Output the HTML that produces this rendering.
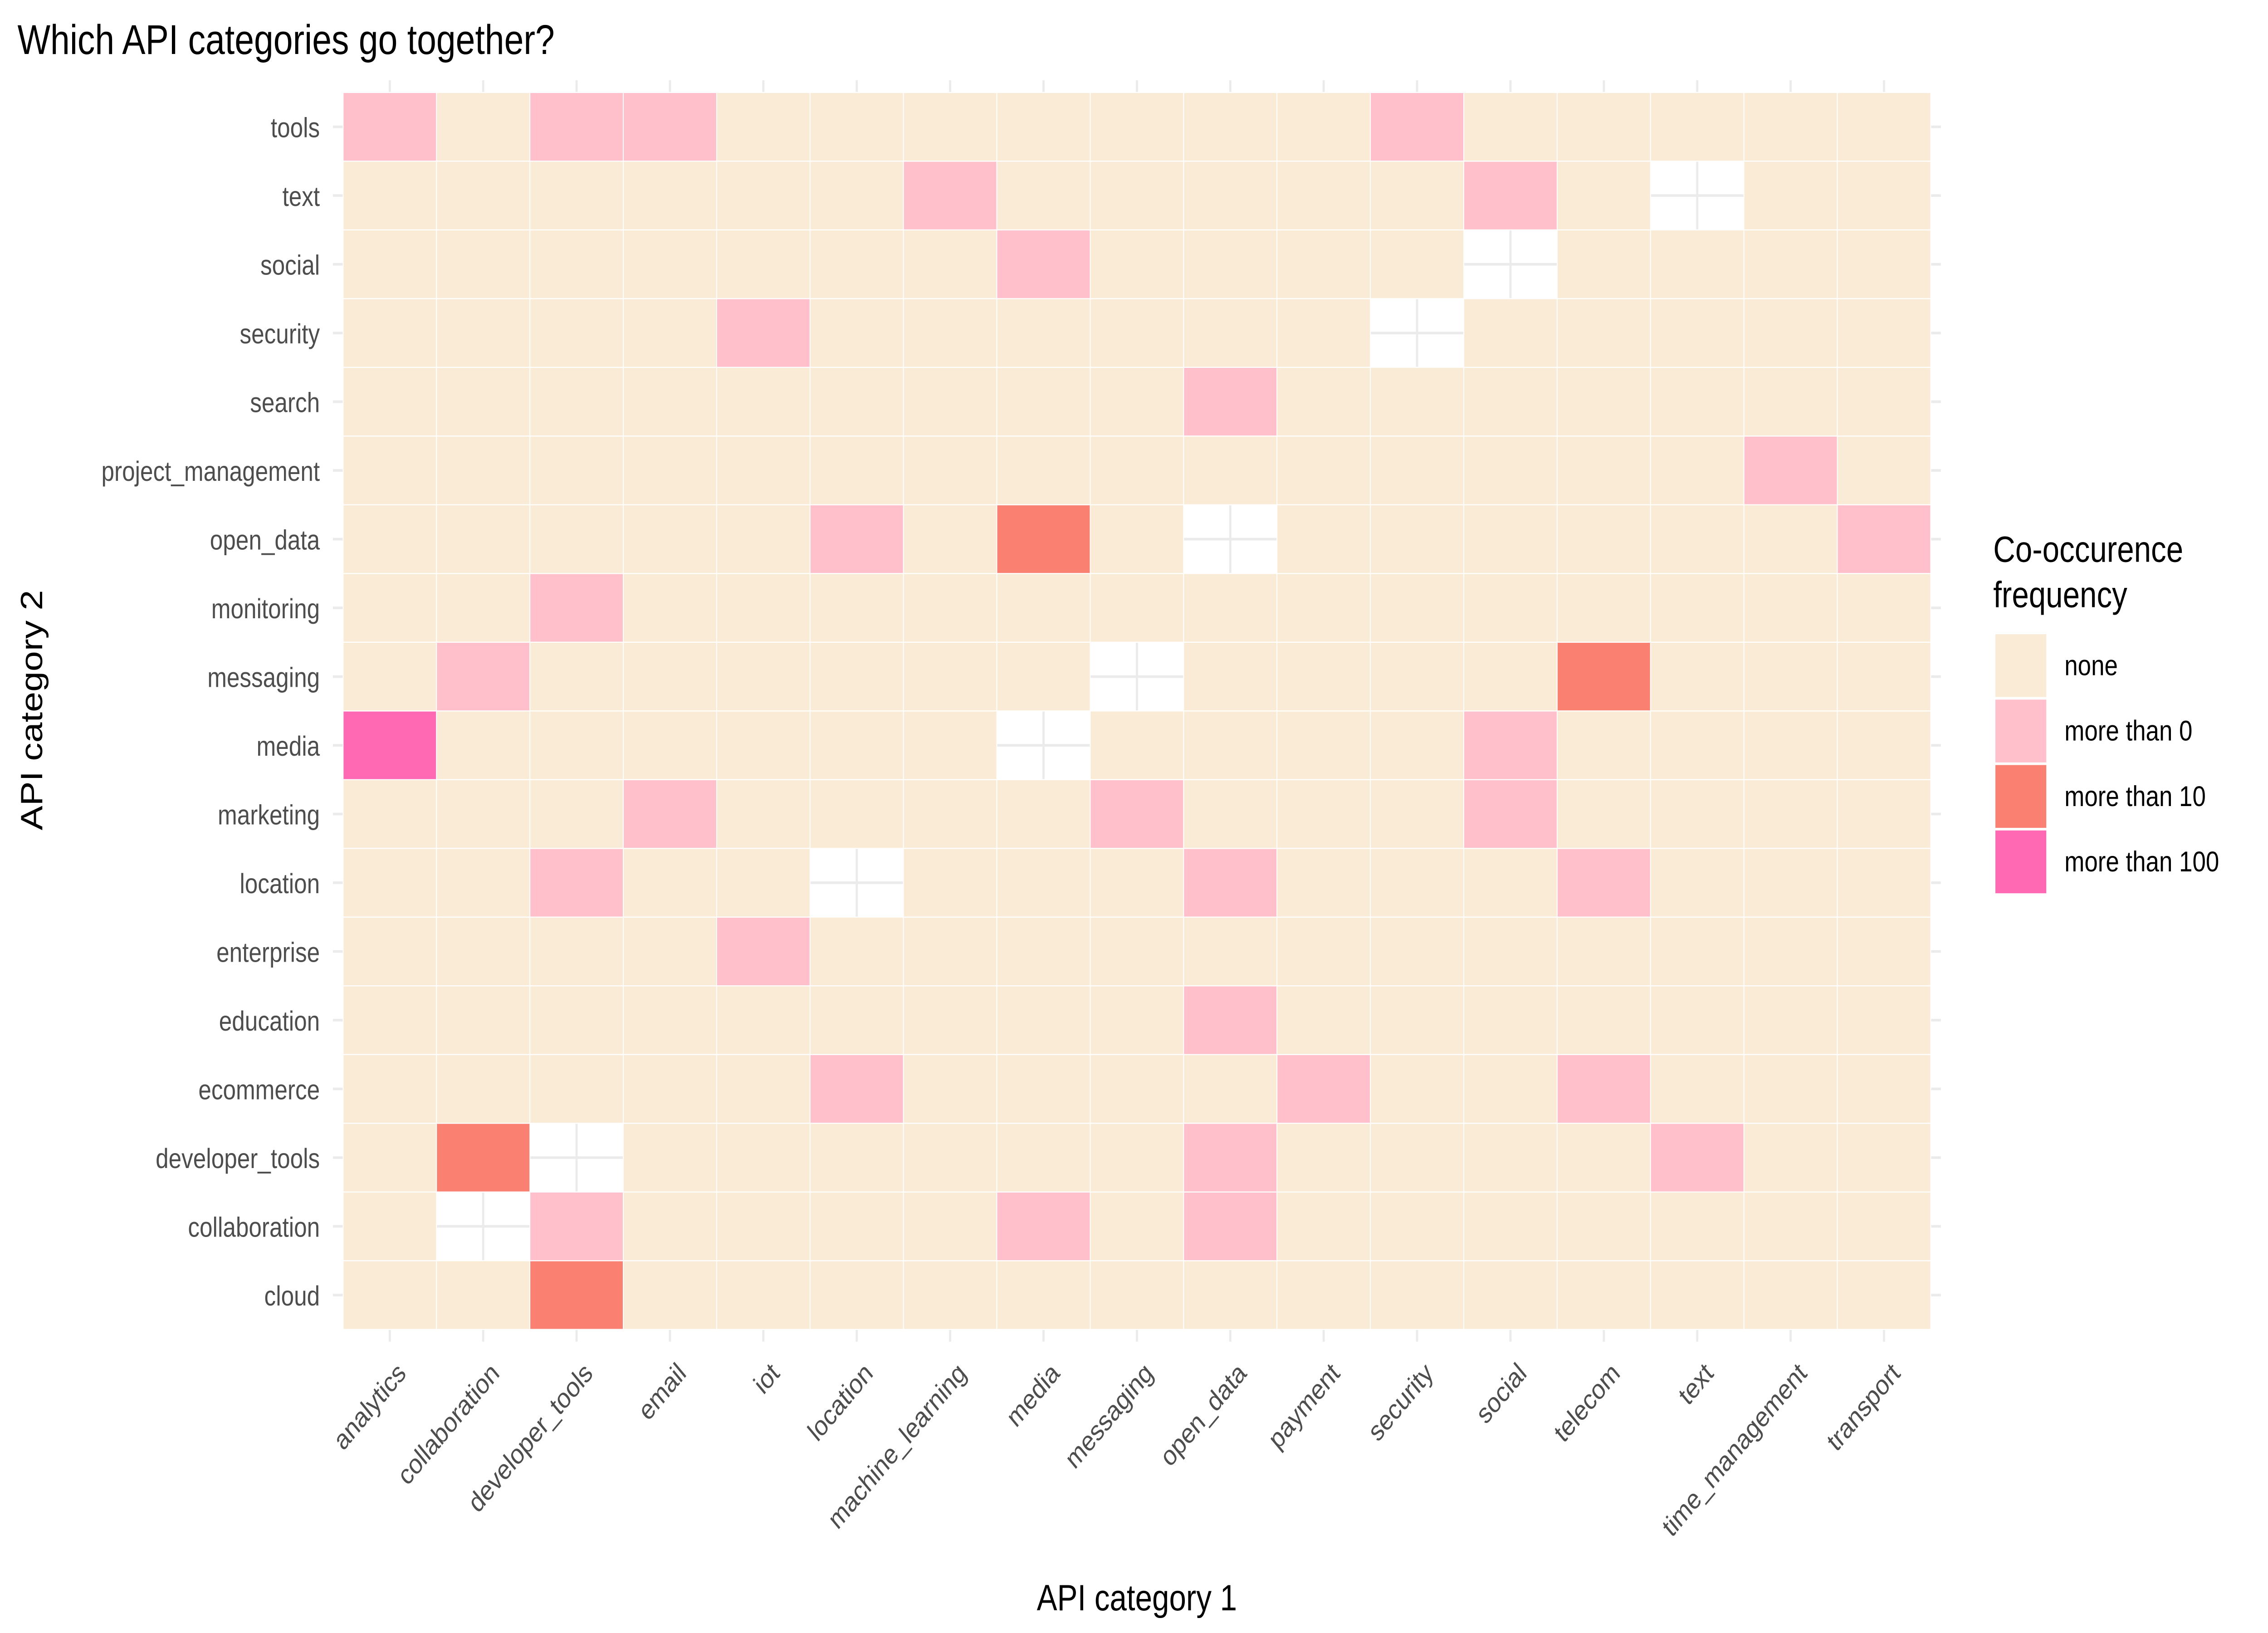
<!DOCTYPE html>
<html><head><meta charset="utf-8"><style>html,body{margin:0;padding:0;background:#fff;overflow:hidden;width:100vw;height:100vh;}svg{display:block;width:100vw;height:100vh;}</style></head>
<body>
<svg id="chart" viewBox="0 0 1560 936" preserveAspectRatio="none" xmlns="http://www.w3.org/2000/svg" font-family="'Liberation Sans', sans-serif">
<rect width="1560" height="936" fill="#fff"/>
<text x="12" y="31" font-size="24" fill="#000">Which API categories go together?</text>
<g id="grid"></g>
<g id="tiles"></g>
<g id="xlabels"></g>
<g id="ylabels"></g>
<text x="782" y="923" font-size="21" text-anchor="middle" fill="#000">API category 1</text>
<text transform="translate(29,407) rotate(-90)" font-size="21" text-anchor="middle" fill="#000">API category 2</text>
<g id="legend">
<text x="1371" y="322" font-size="21" fill="#000">Co-occurence</text>
<text x="1371" y="348" font-size="21" fill="#000">frequency</text>
</g>
</svg>
<script>
const xCats=["analytics","collaboration","developer_tools","email","iot","location","machine_learning","media","messaging","open_data","payment","security","social","telecom","text","time_management","transport"];
const yCats=["cloud","collaboration","developer_tools","ecommerce","education","enterprise","location","marketing","media","messaging","monitoring","open_data","project_management","search","security","social","text","tools"];
const levelNames=["none","more than 0","more than 10","more than 100"];
const levelColors=["#FAEBD7","#FFC0CB","#FA8072","#FF69B4"];
// [y category, x category, level]; level -1 = missing (diagonal)
const cellsRows=["tools","tools","tools","tools","text","text","text","social","social","security","security","search","project_management","open_data","open_data","open_data","open_data","monitoring","messaging","messaging","messaging","media","media","media","marketing","marketing","marketing","location","location","location","location","enterprise","education","ecommerce","ecommerce","ecommerce","developer_tools","developer_tools","developer_tools","developer_tools","collaboration","collaboration","collaboration","collaboration","cloud"];
const cellsCols=["analytics","developer_tools","email","security","machine_learning","social","text","media","social","iot","security","open_data","time_management","location","media","open_data","transport","developer_tools","collaboration","messaging","telecom","analytics","media","social","email","messaging","social","developer_tools","location","open_data","telecom","iot","open_data","location","payment","telecom","collaboration","developer_tools","open_data","text","collaboration","developer_tools","media","open_data","developer_tools"];
const cellsLevels=[1,1,1,1,1,1,-1,1,-1,1,-1,1,1,1,2,-1,1,1,1,-1,2,3,-1,1,1,1,1,1,-1,1,1,1,1,1,1,1,2,-1,1,1,-1,1,1,1,2];

const NS="http://www.w3.org/2000/svg";
const X0=236,X1=1328,Y0=53,Y1=762;
const cw=(X1-X0)/xCats.length, ch=(Y1-Y0)/yCats.length;
const xPos=i=>X0+cw*(i+0.5);
const yPos=j=>Y1-ch*(j+0.5);
function mk(tag,attrs,parent){const e=document.createElementNS(NS,tag);for(const k in attrs)e.setAttribute(k,attrs[k]);parent.appendChild(e);return e;}
const grid=document.getElementById('grid'),tiles=document.getElementById('tiles'),xl=document.getElementById('xlabels'),yl=document.getElementById('ylabels'),lg=document.getElementById('legend');
xCats.forEach((c,i)=>{const l=mk('line',{x1:xPos(i),x2:xPos(i),y1:46,y2:769,stroke:'#ebebeb','stroke-width':1.5},grid);


const t=mk('text',{transform:`translate(${xPos(i)+4},${780}) rotate(-45)`,'text-anchor':'end','font-size':16,fill:'#4d4d4d','dominant-baseline':'hanging'},xl);t.textContent=c;

});
yCats.forEach((c,j)=>{const l=mk('line',{x1:229,x2:1335,y1:yPos(j),y2:yPos(j),stroke:'#ebebeb','stroke-width':1.5},grid);


const t=mk('text',{x:220,y:yPos(j)+6,'text-anchor':'end','font-size':16,fill:'#4d4d4d'},yl);t.textContent=c;

});
const lv={};cellsRows.forEach((r,k)=>{lv[r+'|'+cellsCols[k]]=cellsLevels[k];});
yCats.forEach((r,j)=>xCats.forEach((c,i)=>{let v=lv[r+'|'+c];if(v===undefined)v=0;if(v<0)return;
const e=mk('rect',{x:xPos(i)-cw/2,y:yPos(j)-ch/2,width:cw,height:ch,fill:levelColors[v],stroke:'#fff','stroke-width':0.6},tiles);

}));
levelNames.forEach((n,k)=>{const r=mk('rect',{x:1372,y:363+k*37.5,width:36,height:37,fill:levelColors[k],stroke:'#fff','stroke-width':1},lg);


const t=mk('text',{x:1420,y:387+k*37.5,'font-size':16.5,fill:'#000'},lg);t.textContent=n;

});
</script>
</body></html>
